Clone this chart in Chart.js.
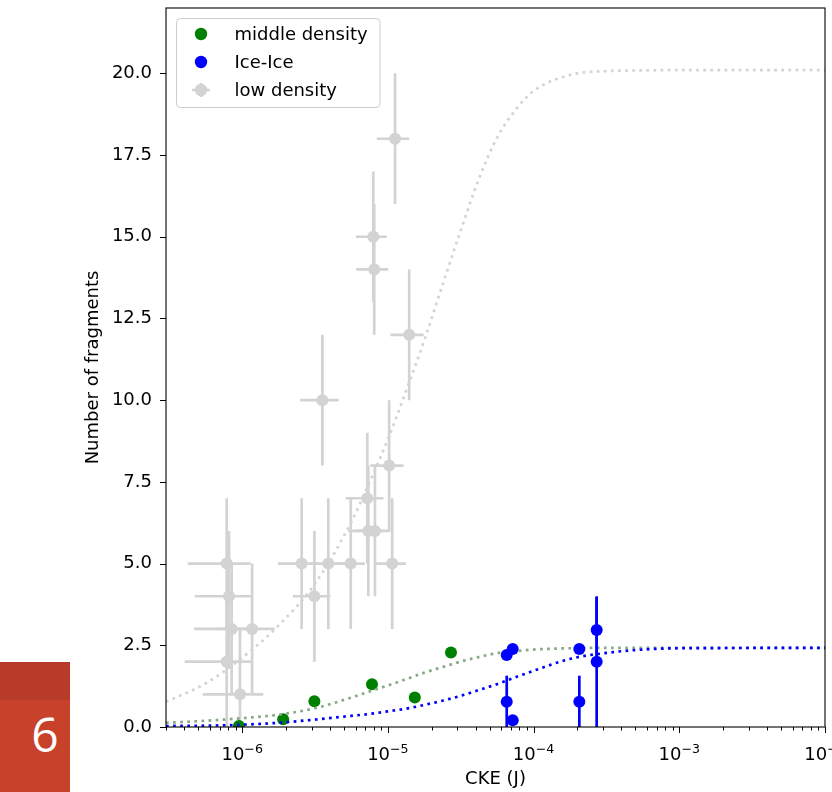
<!DOCTYPE html>
<html>
<head>
<meta charset="utf-8">
<title>Fragments vs CKE</title>
<script src="https://cdn.jsdelivr.net/npm/chart.js@4.4.0/dist/chart.umd.min.js"></script>
<style>
  html, body { margin: 0; padding: 0; background: #fff; overflow: hidden; }
  #wrap { position: relative; width: 832px; height: 792px; overflow: hidden; }
  #chart { position: absolute; left: 0; top: 0; }
  #badge {
    position: absolute; left: 0; top: 662px; width: 70px; height: 130px;
    background: linear-gradient(#b73b28 0, #b73b28 38px, #c8422b 38px);
  }
  #badge span {
    position: absolute; left: 45px; top: 72px; transform: translate(-50%, -50%);
    font: 48px "Open Sans", "Noto Sans", sans-serif; line-height: 1; color: #fff;
  }
</style>
</head>
<body>
<div id="wrap">
  <canvas id="chart" width="880" height="792"></canvas>
  <div id="badge"><span>6</span></div>
</div>
<script>
// low density (grey, with error bars)
const lowX    = [1.12e-5, 7.94e-6, 8.06e-6, 1.40e-5, 3.55e-6, 1.02e-5, 7.22e-6, 7.34e-6, 8.15e-6, 2.56e-6,
                 3.13e-6, 3.90e-6, 5.56e-6, 1.07e-5, 7.83e-7, 8.12e-7, 8.47e-7, 1.17e-6, 7.83e-7, 9.66e-7];
const lowY    = [18, 15, 14, 12, 10, 8, 7, 6, 6, 5, 4, 5, 5, 5, 5, 4, 3, 3, 2, 1];
const lowXErr = [2.8e-6, 1.9e-6, 2.0e-6, 3.6e-6, 1.05e-6, 2.6e-6, 2.1e-6, 2.0e-6, 2.2e-6, 0.8e-6,
                 0.9e-6, 1.0e-6, 1.4e-6, 2.6e-6, 3.6e-7, 3.4e-7, 3.8e-7, 5.0e-7, 3.8e-7, 4.3e-7];
const lowYErr = [2, 2, 2, 2, 2, 2, 2, 2, 2, 2, 2, 2, 2, 2, 2, 2, 2, 2, 2, 2];

// middle density (green)
const midX = [9.5e-7, 1.91e-6, 3.13e-6, 7.78e-6, 1.53e-5, 2.71e-5];
const midY = [0.03, 0.24, 0.79, 1.31, 0.9, 2.28];

// Ice-Ice (blue)
const iceX    = [6.54e-5, 7.19e-5, 6.54e-5, 7.19e-5, 2.06e-4, 2.06e-4, 2.71e-4, 2.71e-4];
const iceY    = [2.2, 2.39, 0.77, 0.21, 2.39, 0.77, 2.97, 2.0];
const iceYErr = [0, 0, 0.8, 0, 0, 0.8, 1.0, 2.0];

// fitted curves
const fitX   = [3.0e-7, 5.6e-7, 1e-6, 1.8e-6, 3.2e-6, 5.6e-6, 7.5e-6, 1e-5, 1.33e-5, 1.8e-5, 2.4e-5,
                3.2e-5, 4.2e-5, 5.6e-5, 7.5e-5, 1e-4, 1.8e-4, 3.2e-4, 5.6e-4, 1e-3, 1e-2];
const lowFit = [0.77, 1.33, 2.12, 3.13, 4.42, 6.27, 7.5, 8.8, 10.27, 11.9, 13.6,
                15.26, 16.76, 18.02, 18.88, 19.46, 19.96, 20.07, 20.09, 20.1, 20.1];
const midFit = [0.13, 0.19, 0.27, 0.38, 0.58, 0.9, 1.09, 1.27, 1.46, 1.67, 1.84,
                2.01, 2.14, 2.26, 2.32, 2.37, 2.41, 2.42, 2.42, 2.42, 2.42];
const iceFit = [0.03, 0.04, 0.07, 0.13, 0.23, 0.34, 0.40, 0.48, 0.56, 0.68, 0.81,
                0.96, 1.13, 1.31, 1.52, 1.72, 2.09, 2.27, 2.37, 2.41, 2.42];

const xDecades = [1e-6, 1e-5, 1e-4, 1e-3, 1e-2];
const yTicks = [0, 2.5, 5, 7.5, 10, 12.5, 15, 17.5, 20];
const legendOrder = ['middle density', 'Ice-Ice', 'low density'];

const FONT = '"DejaVu Sans", sans-serif';

function pts(xs, ys) {
  return xs.map((x, i) => ({ x: x, y: ys[i] }));
}

function fitLine(label, ys, color) {
  return {
    label: label, data: pts(fitX, ys), showLine: true,
    borderColor: color, borderWidth: 2.7, borderDash: [2.7, 4.4], borderCapStyle: 'butt',
    pointRadius: 0, cubicInterpolationMode: 'monotone', clip: 0
  };
}

// error bars drawn just under the points of their dataset
const errorBars = {
  id: 'errorBars',
  beforeDatasetDraw(chart, args) {
    const ds = chart.data.datasets[args.index];
    if (!ds.errX && !ds.errY) return;
    const { ctx, chartArea: a, scales: { x, y } } = chart;
    ctx.save();
    ctx.beginPath();
    ctx.rect(a.left, a.top, a.right - a.left, a.bottom - a.top);
    ctx.clip();
    ctx.strokeStyle = ds.backgroundColor;
    ctx.lineWidth = 2.7;
    ds.data.forEach((p, i) => {
      const px = x.getPixelForValue(p.x);
      const py = y.getPixelForValue(p.y);
      ctx.beginPath();
      if (ds.errY && ds.errY[i]) {
        ctx.moveTo(px, y.getPixelForValue(p.y - ds.errY[i]));
        ctx.lineTo(px, y.getPixelForValue(p.y + ds.errY[i]));
      }
      if (ds.errX && ds.errX[i]) {
        ctx.moveTo(x.getPixelForValue(p.x - ds.errX[i]), py);
        ctx.lineTo(x.getPixelForValue(p.x + ds.errX[i]), py);
      }
      ctx.stroke();
    });
    ctx.restore();
  }
};

// frame, tick marks and 10^n labels
const axesFrame = {
  id: 'axesFrame',
  afterDatasetsDraw(chart) {
    const { ctx, chartArea: a, scales: { x, y } } = chart;
    ctx.save();
    ctx.strokeStyle = '#000';
    ctx.lineWidth = 1.1;
    ctx.strokeRect(a.left, a.top, a.right - a.left, a.bottom - a.top);

    ctx.lineWidth = 1;
    ctx.beginPath();
    yTicks.forEach(v => {
      const py = Math.round(y.getPixelForValue(v)) + 0.5;
      ctx.moveTo(a.left - 6, py);
      ctx.lineTo(a.left, py);
    });
    for (let e = -7; e <= -2; e++) {
      for (let k = 1; k <= 9; k++) {
        const v = k * Math.pow(10, e);
        if (v < x.min * 0.999 || v > x.max * 1.001) continue;
        const px = Math.round(x.getPixelForValue(v)) + 0.5;
        ctx.moveTo(px, a.bottom);
        ctx.lineTo(px, a.bottom + (k === 1 ? 6 : 3.5));
      }
    }
    ctx.stroke();

    ctx.fillStyle = '#000';
    ctx.textBaseline = 'alphabetic';
    ctx.textAlign = 'left';
    xDecades.forEach(v => {
      const px = x.getPixelForValue(v);
      const exp = '\u2212' + Math.abs(Math.round(Math.log10(v)));
      ctx.font = '18px ' + FONT;
      const w1 = ctx.measureText('10').width;
      ctx.font = '12.6px ' + FONT;
      const w2 = ctx.measureText(exp).width;
      const left = px - (w1 + w2) / 2;
      ctx.font = '18px ' + FONT;
      ctx.fillText('10', left, 760);
      ctx.font = '12.6px ' + FONT;
      ctx.fillText(exp, left + w1, 753);
    });
    ctx.restore();
  }
};

// matplotlib-style legend box
const legendBox = {
  id: 'legendBox',
  afterDraw(chart) {
    const ctx = chart.ctx;
    ctx.save();
    const bx = 176.5, by = 18.5, bw = 203.5, bh = 89, r = 4;
    ctx.beginPath();
    ctx.roundRect(bx, by, bw, bh, r);
    ctx.fillStyle = 'rgba(255,255,255,0.8)';
    ctx.fill();
    ctx.strokeStyle = '#cccccc';
    ctx.lineWidth = 1;
    ctx.stroke();

    ctx.font = '18px ' + FONT;
    ctx.textBaseline = 'middle';
    ctx.textAlign = 'left';
    legendOrder.forEach((name, i) => {
      const ds = chart.data.datasets.find(d => d.label === name);
      const cy = 34 + i * 28;
      const cx = 201;
      if (ds.errX) {
        ctx.strokeStyle = ds.backgroundColor;
        ctx.lineWidth = 2.7;
        ctx.beginPath();
        ctx.moveTo(cx - 9, cy); ctx.lineTo(cx + 9, cy);
        ctx.moveTo(cx, cy - 7); ctx.lineTo(cx, cy + 7);
        ctx.stroke();
      }
      ctx.fillStyle = ds.backgroundColor;
      ctx.beginPath();
      ctx.arc(cx, cy, 6.2, 0, Math.PI * 2);
      ctx.fill();
      ctx.fillStyle = '#000';
      ctx.fillText(ds.label, 234.5, cy + 1);
    });
    ctx.restore();
  }
};

const datasets = [
  fitLine('Ice-Ice fit', iceFit, '#0000ff'),
  { label: 'Ice-Ice', data: pts(iceX, iceY), errY: iceYErr,
    backgroundColor: '#0000ff', pointRadius: 6, borderWidth: 0, clip: 0 },
  fitLine('middle density fit', midFit, '#88a888'),
  { label: 'middle density', data: pts(midX, midY),
    backgroundColor: '#008000', pointRadius: 6, borderWidth: 0, clip: 0 },
  { label: 'low density', data: pts(lowX, lowY), errX: lowXErr, errY: lowYErr,
    backgroundColor: '#d3d3d3', pointRadius: 6, borderWidth: 0, clip: 0 },
  fitLine('low density fit', lowFit, '#d3d3d3')
];

new Chart(document.getElementById('chart'), {
  type: 'scatter',
  data: { datasets: datasets },
  plugins: [errorBars, axesFrame, legendBox],
  options: {
    responsive: false,
    animation: false,
    events: [],
    layout: { padding: { left: 0, top: 8, right: 55, bottom: 0 } },
    plugins: { legend: { display: false }, tooltip: { enabled: false } },
    scales: {
      x: {
        type: 'logarithmic',
        min: 3.0e-7,
        max: 1.0e-2,
        grid: { display: false, drawTicks: false },
        border: { display: false },
        ticks: { display: false },
        title: {
          display: true, text: 'CKE (J)', color: '#000',
          font: { family: FONT, size: 18 }, padding: { top: 2.2, bottom: 2.2 }
        },
        afterFit(scale) {
          scale.height = 65;
          scale.paddingLeft = 0;
          scale.paddingRight = 0;
        }
      },
      y: {
        min: 0,
        max: 22,
        grid: { display: false, drawTicks: false },
        border: { display: false },
        afterBuildTicks(scale) { scale.ticks = yTicks.map(v => ({ value: v })); },
        ticks: {
          color: '#000', padding: 14,
          font: { family: FONT, size: 18 },
          callback: v => v.toFixed(1)
        },
        title: {
          display: true, text: 'Number of fragments', color: '#000',
          font: { family: FONT, size: 18 }, padding: { top: 82.2, bottom: 82.2 }
        },
        afterFit(scale) {
          scale.width = 166;
          scale.paddingTop = 0;
          scale.paddingBottom = 0;
        }
      }
    }
  }
});
</script>
</body>
</html>
